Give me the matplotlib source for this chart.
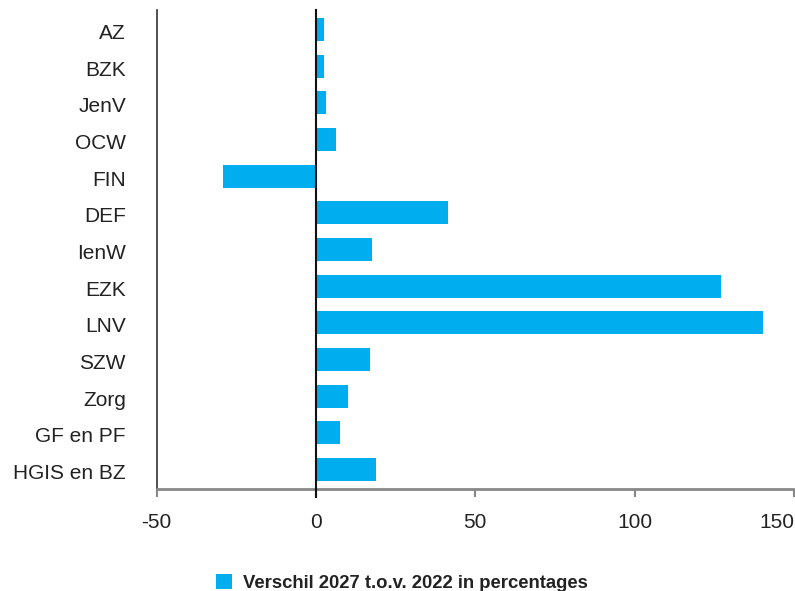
import matplotlib
matplotlib.use("Agg")
import matplotlib.pyplot as plt
from matplotlib.transforms import ScaledTranslation

# departementen en verschil 2027 t.o.v. 2022 (%)
departementen = ['AZ', 'BZK', 'JenV', 'OCW', 'FIN', 'DEF', 'IenW', 'EZK',
                 'LNV', 'SZW', 'Zorg', 'GF en PF', 'HGIS en BZ']
verschil = [2.5, 2.5, 3.1, 6.3, -29.2, 41.4, 17.6, 127.2,
            140.3, 17.0, 10.0, 7.5, 18.8]
xticks = [-50, 0, 50, 100, 150]
legend_label = 'Verschil 2027 t.o.v. 2022 in percentages'

blauw = '#00AEEF'
tekst = '#222222'

plt.rcParams['font.family'] = ['Liberation Sans', 'DejaVu Sans']

fig = plt.figure(figsize=(7.95, 5.91), dpi=100)
ax = fig.add_axes([156.5 / 795, 1 - 489 / 591, (794 - 156.5) / 795, (489 - 10) / 591])

pos = list(range(len(departementen)))
ax.barh(pos, verschil, height=0.63, color=blauw, label=legend_label, zorder=2)
ax.set_ylim(len(departementen) - 0.47, -0.53)
ax.set_xlim(-50, 150)

ax.axvline(0, ymin=-0.017, ymax=1, color='#111111', lw=1.5, zorder=3, clip_on=False)

ax.set_yticks(pos)
ax.set_yticklabels(departementen, fontsize=15, color=tekst)
ax.tick_params(axis='y', length=0, pad=22)
# labels iets lager dan het midden van de balk
shift = ScaledTranslation(0, -2 / 100, fig.dpi_scale_trans)
for lbl in ax.get_yticklabels():
    lbl.set_transform(lbl.get_transform() + shift)

ax.set_xticks(xticks)
ax.set_xticklabels([str(v) for v in xticks], fontsize=15, color=tekst)
ax.tick_params(axis='x', length=6, width=1.5, color='#888888', direction='out', pad=11)
ax.get_xticklabels()[-1].set_horizontalalignment('right')

for s in ['top', 'right']:
    ax.spines[s].set_visible(False)
ax.spines['left'].set_color('#333333')
ax.spines['left'].set_linewidth(1.2)
ax.spines['bottom'].set_color('#888888')
ax.spines['bottom'].set_linewidth(2)

fig.legend(loc='center left', bbox_to_anchor=(216 / 795, 1 - 583 / 591),
           frameon=False, borderpad=0, borderaxespad=0,
           handlelength=0.85, handleheight=0.85, handletextpad=0.6,
           prop={'family': ['Liberation Sans Narrow', 'Liberation Sans'],
                 'weight': 'bold', 'size': 13.3},
           labelcolor=tekst)

fig.savefig('out.png', dpi=100)
